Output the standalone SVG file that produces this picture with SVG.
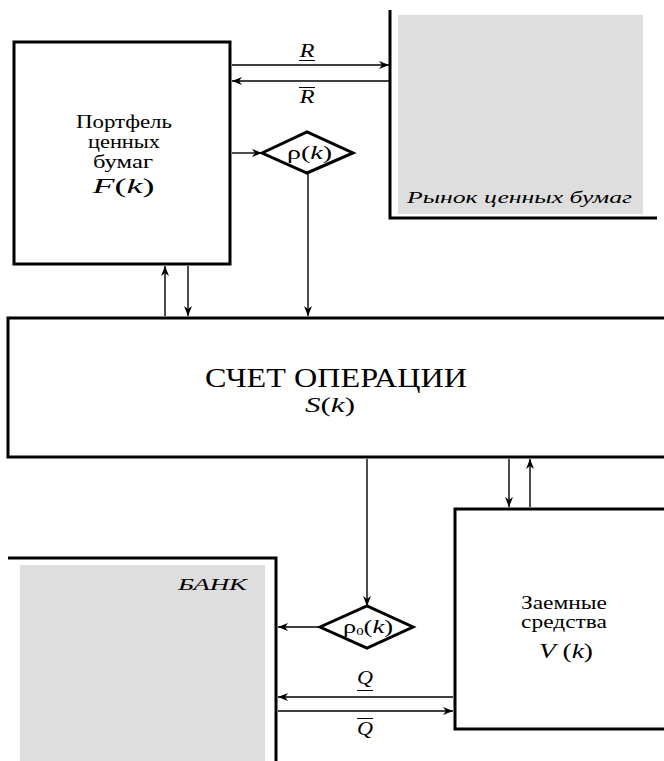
<svg xmlns="http://www.w3.org/2000/svg" width="664" height="761" viewBox="0 0 664 761">
<style>
.box{fill:#fff;stroke:#000;stroke-width:3}
.thick{fill:none;stroke:#000;stroke-width:3}
.dia{fill:#fff;stroke:#000;stroke-width:3;stroke-linejoin:miter}
.grey{fill:#dedede;stroke:none}
.c{fill:none;stroke:#000;stroke-width:1.4}
.bar{stroke:#000;stroke-width:1}
text{font-family:"Liberation Serif","Times New Roman",serif;fill:#000;text-anchor:middle}
.i{font-style:italic}
.n{font-style:normal}
</style>
<defs>
<marker id="ah" markerUnits="userSpaceOnUse" markerWidth="12" markerHeight="10" refX="10" refY="4" orient="auto">
<path d="M0,0 L10,4 L0,8 L3,4 z" fill="#000"/>
</marker>
</defs>
<rect width="664" height="761" fill="#fff"/>
<g id="market">
<rect class="grey" x="398" y="15" width="245" height="199"/>
<path class="thick" d="M390,10 V218 H657"/>
<text class="i" x="519.5" y="203" font-size="16" textLength="225" lengthAdjust="spacingAndGlyphs">Рынок ценных бумаг</text>
</g>
<g id="bank">
<rect class="grey" x="20" y="565" width="245" height="196"/>
<path class="thick" d="M8,558 H276 V761"/>
<text class="i" x="212.5" y="590" font-size="16.5" textLength="69" lengthAdjust="spacingAndGlyphs">БАНК</text>
</g>
<g id="portfolio">
<rect class="box" x="14" y="42" width="216" height="222"/>
<text x="124" y="128" font-size="18" textLength="96" lengthAdjust="spacingAndGlyphs">Портфель</text>
<text x="124" y="148" font-size="18" textLength="72" lengthAdjust="spacingAndGlyphs">ценных</text>
<text x="123" y="168" font-size="18" textLength="60" lengthAdjust="spacingAndGlyphs">бумаг</text>
<text class="i" x="123.5" y="193" font-size="21" textLength="62" lengthAdjust="spacingAndGlyphs">F<tspan class="n">(</tspan>k<tspan class="n">)</tspan></text>
</g>
<g id="account">
<rect class="box" x="8" y="318" width="662" height="139"/>
<text x="336" y="387" font-size="27" textLength="262" lengthAdjust="spacingAndGlyphs">СЧЕТ ОПЕРАЦИИ</text>
<text class="i" x="330" y="412" font-size="22" textLength="50" lengthAdjust="spacingAndGlyphs">S<tspan class="n">(</tspan>k<tspan class="n">)</tspan></text>
</g>
<g id="borrowed">
<rect class="box" x="455" y="509" width="215" height="220"/>
<text x="564" y="609" font-size="18" textLength="86" lengthAdjust="spacingAndGlyphs">Заемные</text>
<text x="564" y="628" font-size="18" textLength="86" lengthAdjust="spacingAndGlyphs">средства</text>
<text class="i" x="566" y="658" font-size="22" textLength="54" lengthAdjust="spacingAndGlyphs">V<tspan class="n"> (</tspan>k<tspan class="n">)</tspan></text>
</g>
<g id="rho">
<polygon class="dia" points="262,153 307,132 353,153 307,173"/>
<text x="309.5" y="159" font-size="18" textLength="45" lengthAdjust="spacingAndGlyphs">ρ(<tspan class="i">k</tspan>)</text>
</g>
<g id="rho0">
<polygon class="dia" points="320,627 367,606 413,627 367,648"/>
<text x="368" y="633" font-size="18" textLength="50" lengthAdjust="spacingAndGlyphs">ρ<tspan font-size="10" dy="2">0</tspan><tspan dy="-2">(</tspan><tspan class="i">k</tspan>)</text>
</g>
<g id="connectors">
<line class="c" x1="232" y1="65" x2="389" y2="65" marker-end="url(#ah)"/>
<line class="c" x1="389" y1="81" x2="232" y2="81" marker-end="url(#ah)"/>
<line class="c" x1="232" y1="153" x2="262" y2="153" marker-end="url(#ah)"/>
<line class="c" x1="308" y1="173" x2="308" y2="316" marker-end="url(#ah)"/>
<line class="c" x1="165" y1="316" x2="165" y2="266" marker-end="url(#ah)"/>
<line class="c" x1="188" y1="266" x2="188" y2="316" marker-end="url(#ah)"/>
<line class="c" x1="509" y1="459" x2="509" y2="507" marker-end="url(#ah)"/>
<line class="c" x1="530" y1="507" x2="530" y2="459" marker-end="url(#ah)"/>
<line class="c" x1="367" y1="459" x2="367" y2="606" marker-end="url(#ah)"/>
<line class="c" x1="320" y1="627" x2="278" y2="627" marker-end="url(#ah)"/>
<line class="c" x1="453" y1="697" x2="278" y2="697" marker-end="url(#ah)"/>
<line class="c" x1="278" y1="711" x2="453" y2="711" marker-end="url(#ah)"/>
<text class="i" x="307" y="57" font-size="18" textLength="15" lengthAdjust="spacingAndGlyphs">R</text>
<line class="bar" x1="299" y1="60.5" x2="315" y2="60.5"/>
<text class="i" x="307" y="103" font-size="18" textLength="15" lengthAdjust="spacingAndGlyphs">R</text>
<line class="bar" x1="299" y1="87.5" x2="315" y2="87.5"/>
<text class="i" x="365" y="684" font-size="18" textLength="16" lengthAdjust="spacingAndGlyphs">Q</text>
<line class="bar" x1="357" y1="690.5" x2="373" y2="690.5"/>
<text class="i" x="365" y="735" font-size="18" textLength="16" lengthAdjust="spacingAndGlyphs">Q</text>
<line class="bar" x1="357" y1="718.5" x2="373" y2="718.5"/>
</g>
</svg>
